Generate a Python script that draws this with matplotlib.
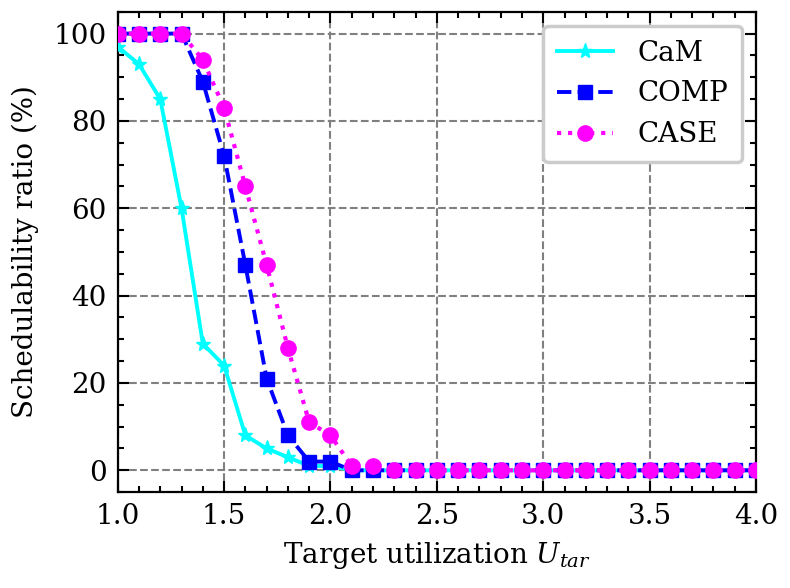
import numpy as np
import matplotlib
matplotlib.use('Agg')
import matplotlib.pyplot as plt
from matplotlib.ticker import MultipleLocator

# target utilization values
u_tar = [1.0, 1.1, 1.2, 1.3, 1.4, 1.5, 1.6, 1.7, 1.8, 1.9, 2.0,
         2.1, 2.2, 2.3, 2.4, 2.5, 2.6, 2.7, 2.8, 2.9, 3.0,
         3.1, 3.2, 3.3, 3.4, 3.5, 3.6, 3.7, 3.8, 3.9, 4.0]

# schedulability ratio (%)
cam = [97, 93, 85, 60, 29, 24, 8, 5, 3, 1, 1,
       0, 0, 0, 0, 0, 0, 0, 0, 0, 0,
       0, 0, 0, 0, 0, 0, 0, 0, 0, 0]
comp = [100, 100, 100, 100, 89, 72, 47, 21, 8, 2, 2,
        0, 0, 0, 0, 0, 0, 0, 0, 0, 0,
        0, 0, 0, 0, 0, 0, 0, 0, 0, 0]
case = [100, 100, 100, 100, 94, 83, 65, 47, 28, 11, 8,
        1, 1, 0, 0, 0, 0, 0, 0, 0, 0,
        0, 0, 0, 0, 0, 0, 0, 0, 0, 0]

plt.rcParams['font.family'] = ['DejaVu Serif']
plt.rcParams['mathtext.fontset'] = 'dejavuserif'
plt.rcParams['font.size'] = 20

fig = plt.figure(figsize=(7.9, 5.88), dpi=100)
ax = fig.add_axes([0.149, 0.163, 0.808, 0.817])

ax.plot(u_tar, cam, color='#00ffff', linestyle='-', linewidth=2.8,
        marker='*', markersize=11, label='CaM', zorder=3)
ax.plot(u_tar, comp, color='#0000ff', linestyle='--', linewidth=2.8,
        marker='s', markersize=10, label='COMP', zorder=4)
ax.plot(u_tar, case, color='#ff00ff', linestyle=':', linewidth=3.0,
        marker='o', markersize=11, label='CASE', zorder=5)

ax.set_xlim(1.0, 4.0)
ax.set_ylim(-5, 105)
ax.xaxis.set_major_locator(MultipleLocator(0.5))
ax.xaxis.set_minor_locator(MultipleLocator(0.1))
ax.yaxis.set_major_locator(MultipleLocator(20))
ax.yaxis.set_minor_locator(MultipleLocator(5))
ax.tick_params(which='both', direction='in', top=True, right=True, width=1.5)
ax.tick_params(which='major', length=8, pad=8)
ax.tick_params(which='minor', length=4.5)
for s in ax.spines.values():
    s.set_linewidth(1.6)

ax.grid(True, which='major', color='gray', linestyle='--', linewidth=1.5)
ax.set_axisbelow(True)

ax.set_xlabel('Target utilization $U_{tar}$', labelpad=7)
ax.set_ylabel('Schedulability ratio (%)', labelpad=10)

leg = ax.legend(loc='upper right', fancybox=True, framealpha=1,
                edgecolor='#cccccc', handlelength=2.0, borderpad=0.5,
                labelspacing=0.5, handletextpad=0.9)
leg.get_frame().set_linewidth(2.5)

fig.savefig('out.png', dpi=100)
